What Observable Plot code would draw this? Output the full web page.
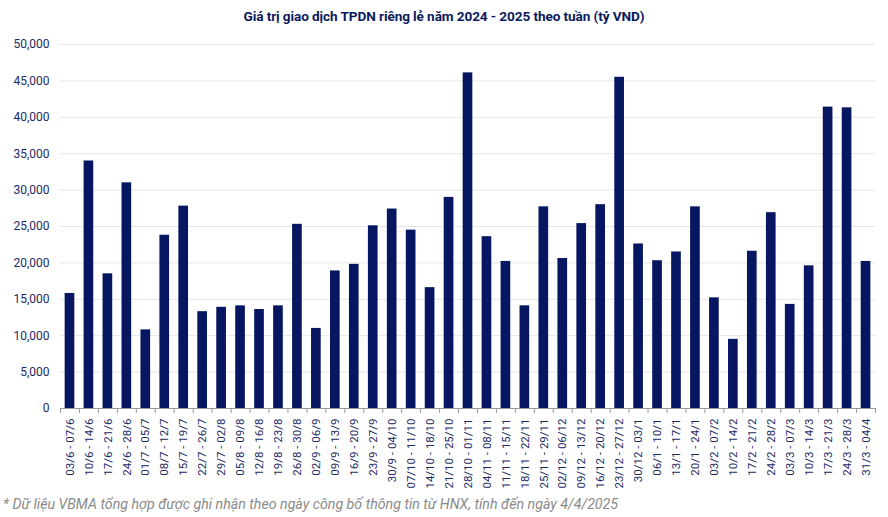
<!DOCTYPE html>
<html>
<head>
<meta charset="utf-8">
<script src="https://cdn.jsdelivr.net/npm/d3@7"></script>
<script src="https://cdn.jsdelivr.net/npm/@observablehq/plot@0.6"></script>
<style>
  body { margin: 0; background: #fff; font-family: Roboto, "Noto Sans", sans-serif; }
  #title { height: 30px; line-height: 32px; text-align: center; font-weight: bold; font-size: 13.6px; color: #0b1a5c; letter-spacing: -0.1px; }
  #note { font-style: italic; font-size: 14.2px; color: #8a8a8a; padding-left: 3px; padding-top: 4px; }
</style>
</head>
<body>
<div id="title">Giá trị giao dịch TPDN riêng lẻ năm 2024 - 2025 theo tuần (tỷ VND)</div>
<div id="chart"></div>
<div id="note">* Dữ liệu VBMA tổng hợp được ghi nhận theo ngày công bố thông tin từ HNX, tính đến ngày 4/4/2025</div>
<script>
const weeks = ["03/6 - 07/6","10/6 - 14/6","17/6 - 21/6","24/6 - 28/6","01/7 - 05/7","08/7 - 12/7","15/7 - 19/7","22/7 - 26/7","29/7 - 02/8","05/8 - 09/8","12/8 - 16/8","19/8 - 23/8","26/8 - 30/8","02/9 - 06/9","09/9 - 13/9","16/9 - 20/9","23/9 - 27/9","30/9 - 04/10","07/10 - 11/10","14/10 - 18/10","21/10 - 25/10","28/10 - 01/11","04/11 - 08/11","11/11 - 15/11","18/11 - 22/11","25/11 - 29/11","02/12 - 06/12","09/12 - 13/12","16/12 - 20/12","23/12 - 27/12","30/12 - 03/1","06/1 - 10/1","13/1 - 17/1","20/1 - 24/1","03/2 - 07/2","10/2 - 14/2","17/2 - 21/2","24/2 - 28/2","03/3 - 07/3","10/3 - 14/3","17/3 - 21/3","24/3 - 28/3","31/3 - 04/4"];
const values = [15800,34000,18500,31000,10800,23800,27800,13300,13900,14100,13600,14100,25300,11000,18900,19800,25100,27400,24500,16600,29000,46100,23600,20200,14100,27700,20600,25400,28000,45500,22600,20300,21500,27700,15200,9500,21600,26900,14300,19600,41400,41300,20200];
const yTicks = [0,5000,10000,15000,20000,25000,30000,35000,40000,45000,50000];

const data = weeks.map((w, i) => ({week: w, value: values[i]}));
const W = 888, mL = 60, mR = 13;
const step = (W - mL - mR) / weeks.length;
const navy = "#061660";
const txt = "#1b2a63";

const chart = Plot.plot({
  width: W,
  height: 462,
  marginTop: 14,
  marginBottom: 84,
  marginLeft: mL,
  marginRight: mR,
  style: {fontFamily: "Roboto, sans-serif", fontSize: "11.5px", color: txt, background: "#fff"},
  x: {domain: weeks, paddingInner: 0.49, paddingOuter: 0.245, label: null},
  y: {domain: [0, 50000], label: null},
  marks: [
    Plot.gridY(yTicks, {stroke: "#e6e6e6", strokeOpacity: 1}),
    Plot.axisY(yTicks, {tickSize: 0, tickPadding: 11, tickFormat: d3.format(","), fontSize: 12, fill: txt, label: null}),
    Plot.barY(data, {x: "week", y: "value", fill: navy}),
    Plot.ruleY([0], {stroke: "#9a9a9a"}),
    Plot.axisX({tickSize: 5, stroke: "#9a9a9a", tickFormat: null, dx: -step / 2, label: null}),
    Plot.axisX([weeks[weeks.length - 1]], {tickSize: 5, stroke: "#9a9a9a", tickFormat: null, dx: step / 2, label: null}),
    Plot.axisX({tickSize: 0, tickPadding: 10, tickRotate: -90, fill: txt, fontSize: 11.5, label: null})
  ]
});
document.getElementById("chart").appendChild(chart);
</script>
</body>
</html>
